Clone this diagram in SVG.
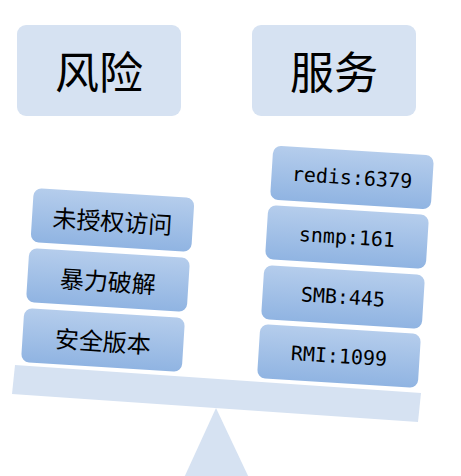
<svg xmlns="http://www.w3.org/2000/svg" width="461" height="476" viewBox="0 0 461 476">
<defs>
<linearGradient id="g" x1="0" y1="0" x2="0" y2="1">
<stop offset="0" stop-color="#b5cdec"/>
<stop offset="1" stop-color="#90b4e2"/>
</linearGradient>
</defs>
<style>
.head{fill:#d6e2f2}
.hl{font-family:"Noto Sans CJK SC","Noto Sans CJK JP",sans-serif;font-size:44px;fill:#000;text-anchor:middle;dominant-baseline:central}
.box{fill:url(#g)}
.cn{font-family:"Noto Sans CJK SC","Noto Sans CJK JP",sans-serif;font-size:24px;fill:#000;text-anchor:middle;dominant-baseline:central}
.mono{font-family:"DejaVu Sans Mono","Liberation Mono",monospace;font-size:20px;fill:#000;text-anchor:middle;dominant-baseline:central}
.base{fill:#d6e2f2}
</style>
<g id="scale">
<polygon class="base" points="216,408 183,480 250,480"/>
<polygon class="base" points="15,365 421,393 418,422 12,394"/>
</g>
<g id="risk"><rect class="head" x="17" y="25" width="164" height="91" rx="9"/><text class="hl" x="99" y="70">风险</text></g>
<g id="service"><rect class="head" x="252" y="25" width="164" height="91" rx="9"/><text class="hl" x="334" y="70">服务</text></g>
<g id="unauth" transform="translate(112.5,220) rotate(3.6)"><rect class="box" x="-80.5" y="-27" width="161" height="54" rx="8"/><text class="cn" x="0" y="0">未授权访问</text></g>
<g id="brute" transform="translate(108,280) rotate(3.6)"><rect class="box" x="-80.5" y="-27" width="161" height="54" rx="8"/><text class="cn" x="0" y="0">暴力破解</text></g>
<g id="version" transform="translate(103,340) rotate(3.6)"><rect class="box" x="-80.5" y="-27" width="161" height="54" rx="8"/><text class="cn" x="0" y="0">安全版本</text></g>
<g id="redis" transform="translate(352,177.5) rotate(3.6)"><rect class="box" x="-80.5" y="-27" width="161" height="54" rx="8"/><text class="mono" x="0" y="0">redis:6379</text></g>
<g id="snmp" transform="translate(347,237) rotate(3.6)"><rect class="box" x="-80.5" y="-27" width="161" height="54" rx="8"/><text class="mono" x="0" y="0">snmp:161</text></g>
<g id="smb" transform="translate(343,297) rotate(3.6)"><rect class="box" x="-80.5" y="-27" width="161" height="54" rx="8"/><text class="mono" x="0" y="0">SMB:445</text></g>
<g id="rmi" transform="translate(339,356) rotate(3.6)"><rect class="box" x="-80.5" y="-27" width="161" height="54" rx="8"/><text class="mono" x="0" y="0">RMI:1099</text></g>
<g id="connectors"/>
</svg>
